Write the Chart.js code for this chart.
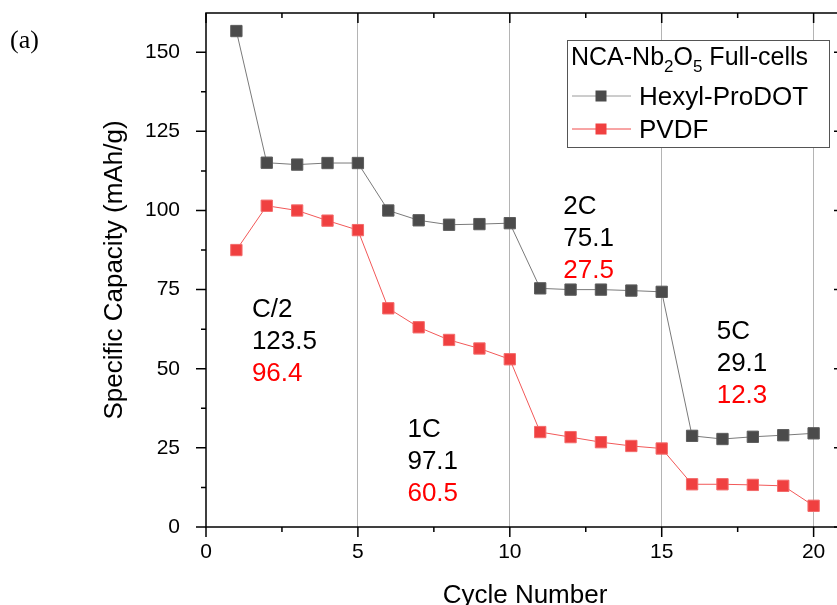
<!DOCTYPE html>
<html>
<head>
<meta charset="utf-8">
<script src="https://cdn.jsdelivr.net/npm/chart.js@4.4.1/dist/chart.umd.min.js"></script>
<style>
  html, body { margin: 0; padding: 0; background: #fff; overflow: hidden; }
  /* the plot frame runs past the right edge of the picture, so the canvas is wider than the view */
  #wrap { width: 837px; height: 605px; position: relative; overflow: hidden; }
</style>
</head>
<body>
<div id="wrap"><canvas id="chart" width="853" height="605"></canvas></div>
<script>
// cycle data
const cycles = [1, 2, 3, 4, 5, 6, 7, 8, 9, 10, 11, 12, 13, 14, 15, 16, 17, 18, 19, 20];
const hexylProdot = [156.7, 115.1, 114.5, 115.0, 115.0, 100.0, 96.9, 95.5, 95.7, 96.0, 75.4, 75.0, 75.0, 74.7, 74.3, 28.8, 27.8, 28.5, 29.0, 29.6];
const pvdf = [87.5, 101.5, 100.0, 96.8, 93.8, 69.1, 63.1, 59.1, 56.4, 53.0, 30.0, 28.4, 26.8, 25.6, 24.8, 13.5, 13.5, 13.3, 13.0, 6.7];

const xTicks = [0, 5, 10, 15, 20];
const xMinorTicks = [2.5, 7.5, 12.5, 17.5];
const yTicks = [0, 25, 50, 75, 100, 125, 150];
const yMinorTicks = [12.5, 37.5, 62.5, 87.5, 112.5, 137.5];
const rateGridLines = [5, 10, 15, 20];

// rate annotations (average capacities)
const rateLabels = ['C/2', '1C', '2C', '5C'];
const hexylAverages = ['123.5', '97.1', '75.1', '29.1'];
const pvdfAverages = ['96.4', '60.5', '27.5', '12.3'];
const notePlaces = [[1.51, 68.6], [6.63, 30.6], [11.76, 101.1], [16.81, 61.6]];

const FONT = "'Liberation Sans', Arial, sans-serif";

const extrasPlugin = {
    id: 'extras',
    afterDatasetsDraw(chart) {
        const {ctx, scales: {x, y}} = chart;
        ctx.save();

        // annotations
        ctx.font = '26px ' + FONT;
        ctx.textAlign = 'left';
        ctx.textBaseline = 'middle';
        notePlaces.forEach((p, i) => {
            const px = x.getPixelForValue(p[0]);
            const py = y.getPixelForValue(p[1]);
            ctx.fillStyle = '#000';
            ctx.fillText(rateLabels[i], px, py);
            ctx.fillText(hexylAverages[i], px, py + 32);
            ctx.fillStyle = '#ff0000';
            ctx.fillText(pvdfAverages[i], px, py + 64);
        });

        // legend box
        ctx.fillStyle = '#fff';
        ctx.fillRect(567, 40, 262, 107);
        ctx.strokeStyle = '#555';
        ctx.lineWidth = 1;
        ctx.strokeRect(567.5, 40.5, 262, 107);

        ctx.fillStyle = '#000';
        ctx.textBaseline = 'alphabetic';
        let tx = 571;
        const parts = [['NCA-Nb', 0], ['2', 1], ['O', 0], ['5', 1], [' Full-cells', 0]];
        parts.forEach(part => {
            ctx.font = (part[1] ? '17px ' : '25px ') + FONT;
            ctx.fillText(part[0], tx, part[1] ? 72 : 65);
            tx += ctx.measureText(part[0]).width;
        });

        const rows = [
            {label: 'Hexyl-ProDOT', line: '#9a9a9a', fill: '#4b4b4b', cy: 96},
            {label: 'PVDF', line: '#f04a4a', fill: '#f04040', cy: 129}
        ];
        ctx.font = '26px ' + FONT;
        rows.forEach(r => {
            ctx.strokeStyle = r.line;
            ctx.beginPath();
            ctx.moveTo(572, r.cy);
            ctx.lineTo(631, r.cy);
            ctx.stroke();
            ctx.fillStyle = r.fill;
            ctx.fillRect(595.5, r.cy - 5.5, 11, 11);
            ctx.fillStyle = '#000';
            ctx.fillText(r.label, 639, r.cy + 9);
        });

        // (a)
        ctx.font = "26px 'Liberation Serif', 'Times New Roman', serif";
        ctx.fillText('(a)', 10, 48);
        ctx.restore();
    },
    afterDraw(chart) {
        const {ctx, chartArea: a, scales: {x, y}} = chart;
        ctx.save();
        ctx.strokeStyle = '#000';
        ctx.lineWidth = 1.5;
        ctx.strokeRect(a.left, a.top, a.right - a.left, a.bottom - a.top);
        ctx.beginPath();
        const xMark = (v, len) => {
            const px = x.getPixelForValue(v);
            ctx.moveTo(px, a.bottom);
            ctx.lineTo(px, a.bottom + len);
            ctx.moveTo(px, a.top);
            ctx.lineTo(px, a.top + len);
        };
        const yMark = (v, len) => {
            const py = y.getPixelForValue(v);
            ctx.moveTo(a.left, py);
            ctx.lineTo(a.left - len, py);
            ctx.moveTo(a.right, py);
            ctx.lineTo(a.right - len, py);
        };
        xTicks.forEach(v => xMark(v, 10));
        xMinorTicks.forEach(v => xMark(v, 5));
        yTicks.forEach(v => yMark(v, 10));
        yMinorTicks.forEach(v => yMark(v, 5));
        ctx.stroke();
        ctx.restore();
    }
};

function noPad(s) {
    s.paddingTop = 0;
    s.paddingBottom = 0;
    s.paddingLeft = 0;
    s.paddingRight = 0;
}

new Chart(document.getElementById('chart'), {
    type: 'line',
    data: {
        labels: cycles,
        datasets: [
            {
                label: 'Hexyl-ProDOT',
                data: cycles.map((c, i) => ({x: c, y: hexylProdot[i]})),
                borderColor: '#7a7a7a',
                borderWidth: 1,
                pointStyle: 'rect',
                pointRadius: 8,
                pointBackgroundColor: '#4b4b4b',
                pointBorderColor: '#5c5c5c',
                pointBorderWidth: 1,
                tension: 0
            },
            {
                label: 'PVDF',
                data: cycles.map((c, i) => ({x: c, y: pvdf[i]})),
                borderColor: '#f25858',
                borderWidth: 1,
                pointStyle: 'rect',
                pointRadius: 8,
                pointBackgroundColor: '#f04040',
                pointBorderColor: '#f36a6a',
                pointBorderWidth: 1,
                tension: 0
            }
        ]
    },
    options: {
        responsive: false,
        animation: false,
        events: [],
        layout: {padding: {left: 0, top: 13, right: 0, bottom: 0}},
        plugins: {legend: {display: false}, title: {display: false}, tooltip: {enabled: false}},
        scales: {
            x: {
                type: 'linear',
                min: 0,
                max: 21,
                afterBuildTicks: s => { s.ticks = xTicks.map(v => ({value: v})); },
                afterFit: s => { s.height = 78; noPad(s); },
                ticks: {color: '#000', padding: 13, font: {family: FONT, size: 21}},
                grid: {
                    drawTicks: false,
                    color: c => rateGridLines.includes(c.tick.value) ? '#b4b4b4' : 'rgba(0,0,0,0)',
                    lineWidth: 1
                },
                border: {display: false},
                title: {
                    display: true,
                    text: 'Cycle Number',
                    color: '#000',
                    font: {family: FONT, size: 26},
                    padding: {top: 0, bottom: -6}
                }
            },
            y: {
                type: 'linear',
                min: 0,
                max: 162.4,
                afterBuildTicks: s => { s.ticks = yTicks.map(v => ({value: v})); },
                afterFit: s => { s.width = 206; noPad(s); },
                ticks: {color: '#000', padding: 18, font: {family: FONT, size: 21}},
                grid: {display: false},
                border: {display: false},
                title: {
                    display: true,
                    text: 'Specific Capacity (mAh/g)',
                    color: '#000',
                    font: {family: FONT, size: 26},
                    padding: {top: 99, bottom: 0}
                }
            }
        }
    },
    plugins: [extrasPlugin]
});
</script>
</body>
</html>
